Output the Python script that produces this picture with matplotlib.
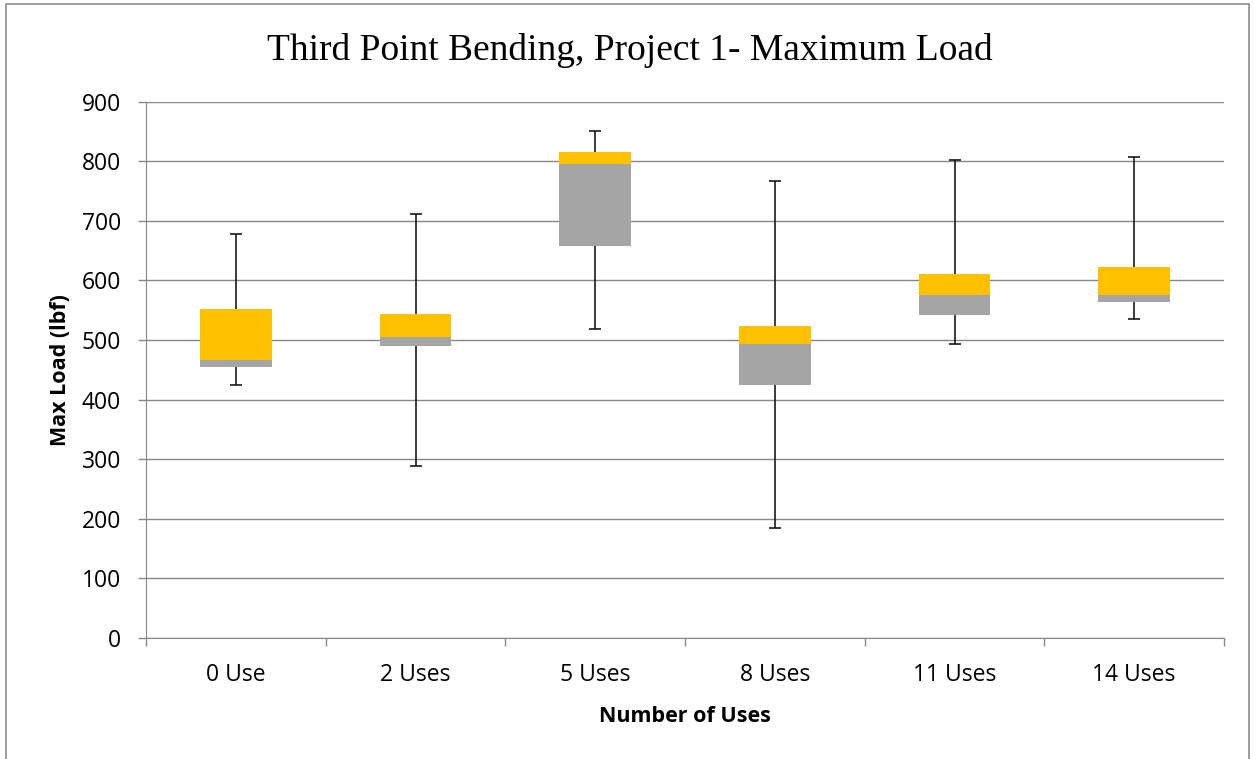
import matplotlib
matplotlib.use("Agg")
import matplotlib.pyplot as plt
from matplotlib.patches import Rectangle
import numpy as np

categories = ["0 Use", "2 Uses", "5 Uses", "8 Uses", "11 Uses", "14 Uses"]
minimum = [424, 289, 519, 184, 494, 535]
q1 = [455, 490, 658, 424, 542, 564]
median = [466, 505, 795, 494, 576, 575]
q3 = [552, 543, 816, 523, 611, 623]
maximum = [678, 712, 850, 767, 802, 808]

yticks = list(range(0, 901, 100))

orange = "#FFC000"
gray = "#A5A5A5"
grid_c = "#888888"

fig = plt.figure(figsize=(12.55, 7.59), dpi=100)
ax = fig.add_axes([146 / 1255, 1 - 638 / 759, 1078 / 1255, (638 - 101.7) / 759])

x = np.arange(len(categories))
mn = np.array(minimum); a = np.array(q1); m = np.array(median)
b = np.array(q3); mx = np.array(maximum)

# whiskers (drawn below boxes)
ax.errorbar(x, (mn + mx) / 2, yerr=(mx - mn) / 2, fmt="none", ecolor="#1a1a1a",
            elinewidth=1.2, capsize=4.5, capthick=1.2, zorder=2)
ax.bar(x, m - a, bottom=a, width=0.4, color=gray, zorder=3)
ax.bar(x, b - m, bottom=m, width=0.4, color=orange, zorder=3)

ax.set_ylim(0, 900)
ax.set_xlim(-0.5, len(categories) - 0.5)
ax.set_yticks(yticks)
ax.set_yticklabels([str(t) for t in yticks])
ax.yaxis.grid(True, color=grid_c, linewidth=1.0, zorder=0)
ax.set_axisbelow(True)

ax.set_xticks(x)
ax.set_xticklabels(categories)
ax.set_xticks(np.arange(-0.5, len(categories), 1.0), minor=True)
ax.tick_params(axis="x", which="major", length=0, pad=18, labelsize=16.5)
ax.tick_params(axis="x", which="minor", length=6, color=grid_c, width=1)
ax.tick_params(axis="y", length=6, color=grid_c, width=1, labelsize=16.5, pad=12)

for lab in ax.get_xticklabels() + ax.get_yticklabels():
    lab.set_fontfamily("Open Sans")

for s in ["top", "right"]:
    ax.spines[s].set_visible(False)
ax.spines["left"].set_color(grid_c)
ax.spines["bottom"].set_color(grid_c)

ax.set_xlabel("Number of Uses", fontsize=15.5, fontweight="bold",
              fontfamily="Open Sans", labelpad=14)
ax.set_ylabel("Max Load (lbf)", fontsize=15.5, fontweight="bold",
              fontfamily="Open Sans", labelpad=8)

fig.text(630 / 1255, 1 - 50 / 759, "Third Point Bending, Project 1- Maximum Load",
         ha="center", va="center", fontsize=27, fontfamily="Liberation Serif")

fig.patches.append(Rectangle((0.005, -0.02), 0.99, 1.015, transform=fig.transFigure,
                             fill=False, edgecolor="#8c8c8c", linewidth=1.2))

fig.savefig("out.png", dpi=100)
